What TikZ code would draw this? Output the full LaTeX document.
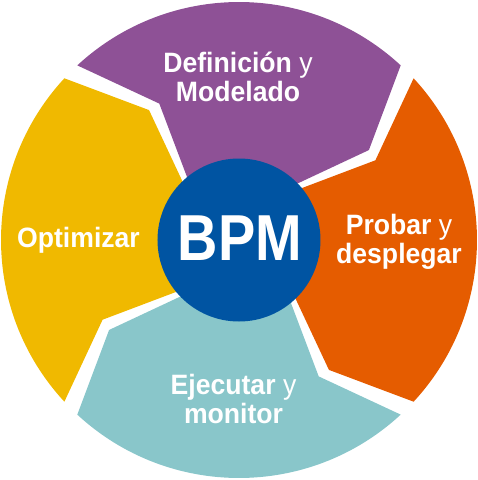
\documentclass[tikz,border=0pt]{standalone}
\usepackage{fontspec}
\setmainfont{Liberation Sans}[FakeStretch=0.95]
\newfontfamily\bpmfont{Liberation Sans}[FakeStretch=0.86]
\definecolor{defcol}{RGB}{142,81,150}
\definecolor{probcol}{RGB}{229,92,0}
\definecolor{ejeccol}{RGB}{137,198,202}
\definecolor{optcol}{RGB}{240,185,0}
\definecolor{bpmcol}{RGB}{0,84,162}

\begin{document}
\begin{tikzpicture}[x=1pt, y=1pt, segtext/.style={text=white,font=\fontsize{28}{28.5}\selectfont,align=center,inner sep=0pt}]
  \useasboundingbox (-239,-240) rectangle (239,240);
  % four chevron segments, clockwise
  \foreach \s/\e/\c in {135/45/defcol, 45/-45/probcol, -45/-135/ejeccol, 225/135/optcol}
    \fill[\c] (\s-2.2:238) arc[start angle=\s-2.2, end angle=\e+2.2, radius=238]
      -- (\e+2.2-12.5:158) -- (\e+2.2:70)
      arc[start angle=\e+2.2, end angle=\s-2.2, radius=70]
      -- (\s-2.2-12.5:158) -- cycle;
  \node [circle,fill=bpmcol,minimum size=163pt,inner sep=0pt] (bpm) at (0,0) {};
  \node [text=white,font=\bpmfont\bfseries\fontsize{65}{65}\selectfont,inner sep=0pt] (bpmtext) at (1,1.5) {BPM};
  \node [segtext] (def) at (-1,163) {\textbf{Definición} y\\\textbf{Modelado}};
  \node [segtext] (prob) at (160,-2) {\textbf{Probar} y\\\textbf{desplegar}};
  \node [segtext] (ejec) at (-5.5,-159) {\textbf{Ejecutar} y\\\textbf{monitor}};
  \node [segtext] (opt) at (-160.5,0) {\textbf{Optimizar}};
\end{tikzpicture}
\end{document}
